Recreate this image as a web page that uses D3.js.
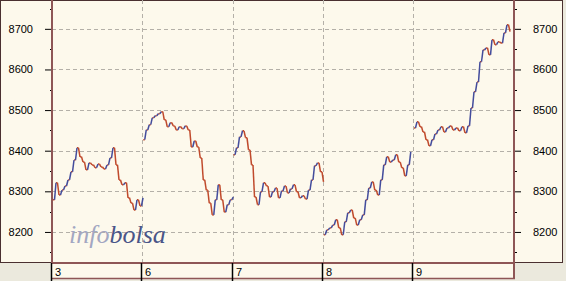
<!DOCTYPE html>
<html>
<head>
<meta charset="utf-8">
<script src="https://cdn.jsdelivr.net/npm/d3@7"></script>
<style>
  body { margin: 0; background: #ebe9dd; }
  svg { display: block; }
</style>
</head>
<body>
<div class="chart"></div>
<script>
// intraday index, one sample every few minutes
var dayLabels = ["3", "6", "7", "8", "9"];
var day3 = [8279, 8321, 8291, 8303, 8313, 8328, 8348, 8377, 8407, 8385, 8372, 8353, 8370, 8365, 8358, 8367,
            8360, 8355, 8365, 8382, 8407, 8365, 8328, 8316, 8321, 8284, 8271, 8254, 8279, 8264, 8284];
var day6 = [8427, 8451, 8464, 8481, 8486, 8491, 8496, 8476, 8459, 8469, 8461, 8451, 8459, 8454, 8461, 8451,
            8409, 8424, 8409, 8382, 8328, 8303, 8271, 8242, 8279, 8316, 8279, 8249, 8267, 8279, 8286];
var day7 = [8390, 8407, 8434, 8449, 8432, 8402, 8365, 8286, 8267, 8299, 8321, 8313, 8286, 8299, 8308, 8284,
            8301, 8313, 8296, 8306, 8316, 8299, 8284, 8289, 8281, 8303, 8328, 8363, 8370, 8348, 8323];
var day8 = [8193, 8205, 8210, 8217, 8230, 8210, 8193, 8225, 8247, 8254, 8234, 8217, 8230, 8242, 8279, 8308,
            8323, 8303, 8291, 8328, 8365, 8385, 8372, 8377, 8390, 8372, 8358, 8338, 8365, 8397];
var day9 = [8456, 8471, 8459, 8446, 8427, 8412, 8427, 8441, 8451, 8459, 8446, 8456, 8461, 8451, 8456, 8449,
            8459, 8444, 8461, 8505, 8545, 8569, 8619, 8648, 8653, 8636, 8673, 8661, 8668, 8665, 8690, 8710, 8693];
var yTicks = [8200, 8300, 8400, 8500, 8600, 8700];
var yMinor = [8150, 8250, 8350, 8450, 8550, 8650, 8750];

var sessions = [day3, day6, day7, day8, day9];

var W = 566, H = 281;
var plot = {left: 52, right: 513, top: 0, bottom: 262};

var svg = d3.select(".chart").append("svg").attr("width", W).attr("height", H);

var x = d3.scaleLinear().domain([0, 461 / 90.25]).range([plot.left, plot.right]);
var y = d3.scaleLinear().domain([8126, 8771]).range([plot.bottom, plot.top]);

// panels
svg.append("rect").attr("x", 0).attr("y", 0).attr("width", W).attr("height", H).attr("fill", "#ebe9dd");
svg.append("rect").attr("x", 0.5).attr("y", 0.5).attr("width", 562).attr("height", 262)
  .attr("fill", "#fdf9ec").attr("stroke", "#4a3030");
svg.append("rect").attr("x", 51).attr("y", 262).attr("width", 463).attr("height", 16)
  .attr("fill", "#fdf9ec");

// grid
var grid = svg.append("g").attr("stroke", "#b4b0a8").attr("stroke-dasharray", "4,3");
grid.selectAll("line.h").data(yTicks).enter().append("line")
  .attr("x1", plot.left).attr("x2", plot.right)
  .attr("y1", function(d) { return Math.round(y(d)) + 0.5; })
  .attr("y2", function(d) { return Math.round(y(d)) + 0.5; });
grid.selectAll("line.v").data(dayLabels.slice(1)).enter().append("line")
  .attr("y1", plot.top).attr("y2", plot.bottom)
  .attr("x1", function(d, i) { return Math.round(x(i + 1)) + 0.5; })
  .attr("x2", function(d, i) { return Math.round(x(i + 1)) + 0.5; });

// watermark
var wm = svg.append("text").attr("x", 69).attr("y", 243)
  .style("font-family", "'Liberation Serif', 'DejaVu Serif', serif")
  .style("font-style", "italic").style("font-size", "26px");
wm.append("tspan").attr("fill", "#a3a7c2").text("info");
wm.append("tspan").attr("fill", "#4a5588").text("bolsa");

// series as little steps, coloured by direction of each move
var lines = svg.append("g").attr("stroke-width", 1.5);
sessions.forEach(function(vals, d) {
  var pts = vals.map(function(v, i) { return [x(d + (1 + 3 * i) / 90.25), y(v)]; });
  var segs = d3.pairs(pts);
  lines.selectAll(null).data(segs).enter().append("line")
    .attr("x1", function(p) { return p[0][0]; }).attr("y1", function(p) { return p[0][1]; })
    .attr("x2", function(p) { return (p[0][0] + p[1][0]) / 2; }).attr("y2", function(p) { return p[0][1]; })
    .attr("stroke", "#c04a2c");
  lines.selectAll(null).data(segs).enter().append("line")
    .attr("x1", function(p) { return (p[0][0] + p[1][0]) / 2; }).attr("y1", function(p) { return p[0][1]; })
    .attr("x2", function(p) { return p[1][0]; }).attr("y2", function(p) { return p[1][1]; })
    .attr("stroke", function(p) { return p[1][1] < p[0][1] ? "#434c9c" : "#c04a2c"; });
});

// axes
var axL = svg.append("g").attr("transform", "translate(" + plot.left + ",0)")
  .call(d3.axisLeft(y).tickValues(yTicks).tickSize(7).tickPadding(12).tickFormat(d3.format("d")));
var axR = svg.append("g").attr("transform", "translate(" + (plot.right + 1) + ",0)")
  .call(d3.axisRight(y).tickValues(yTicks).tickSize(7).tickPadding(12).tickFormat(d3.format("d")));
[axL, axR].forEach(function(a) {
  a.select(".domain").remove();
  a.selectAll("line").attr("stroke", "#000");
  a.selectAll("text").style("font-family", "'Liberation Sans', Arial, sans-serif")
    .style("font-size", "11px").attr("fill", "#000");
});
svg.append("g").selectAll("line").data(yMinor).enter().append("line")
  .attr("x1", plot.left - 2).attr("x2", plot.left)
  .attr("y1", function(d) { return Math.round(y(d)) + 0.5; })
  .attr("y2", function(d) { return Math.round(y(d)) + 0.5; }).attr("stroke", "#000");
svg.append("g").selectAll("line").data(yMinor).enter().append("line")
  .attr("x1", plot.right + 1).attr("x2", plot.right + 4)
  .attr("y1", function(d) { return Math.round(y(d)) + 0.5; })
  .attr("y2", function(d) { return Math.round(y(d)) + 0.5; }).attr("stroke", "#000");

// plot frame
var frame = "#8e5656";
svg.append("line").attr("x1", 52).attr("x2", 52).attr("y1", 0).attr("y2", 263).attr("stroke", frame).attr("stroke-width", 2);
svg.append("line").attr("x1", 514).attr("x2", 514).attr("y1", 0).attr("y2", 279).attr("stroke", frame).attr("stroke-width", 2);
svg.append("line").attr("x1", 51).attr("x2", 515).attr("y1", 263).attr("y2", 263).attr("stroke", frame).attr("stroke-width", 2);
svg.append("line").attr("x1", 51).attr("x2", 515).attr("y1", 278.5).attr("y2", 278.5).attr("stroke", frame).attr("stroke-width", 1.5);

// day axis
var dayAx = svg.append("g");
dayAx.selectAll("line").data(dayLabels).enter().append("line")
  .attr("x1", function(d, i) { return Math.round(x(i)) - 0.5; })
  .attr("x2", function(d, i) { return Math.round(x(i)) - 0.5; })
  .attr("y1", 263).attr("y2", 281).attr("stroke", "#000").attr("stroke-width", 1.5);
dayAx.selectAll("text").data(dayLabels).enter().append("text")
  .attr("x", function(d, i) { return Math.round(x(i)) + 3; })
  .attr("y", 276)
  .style("font-family", "'Liberation Sans', Arial, sans-serif").style("font-size", "11px")
  .text(function(d) { return d; });
</script>
</body>
</html>
